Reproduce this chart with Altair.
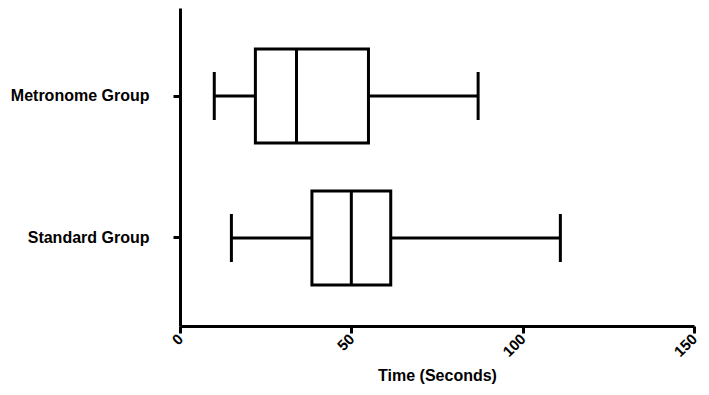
import altair as alt
import pandas as pd

groups = ["Metronome Group", "Standard Group"]
mins = [10, 15]
q1s = [22, 38.5]
medians = [34, 50]
q3s = [55, 61.5]
maxs = [87, 111]
x_ticks = [0, 50, 100, 150]

df = pd.DataFrame({"group": groups, "lo": mins, "q1": q1s, "med": medians,
                   "q3": q3s, "hi": maxs})

FONT = "Liberation Sans"
xscale = alt.Scale(domain=[0, 150], nice=False, zero=False)
xaxis = alt.Axis(values=x_ticks, title="Time (Seconds)", grid=False,
                 domainColor="black", domainWidth=3, tickColor="black",
                 tickWidth=3, tickSize=7, labelAngle=-45, labelAlign="right",
                 labelBaseline="middle", labelPadding=3, labelFont=FONT,
                 labelFontSize=15, labelFontWeight="bold", labelColor="black",
                 titleFont=FONT, titleFontSize=16, titleFontWeight="bold",
                 titleColor="black", titlePadding=8, labelFlush=False,
                 labelOverlap=False)
yscale = alt.Scale(domain=groups, paddingInner=0, paddingOuter=0.12)
yaxis = alt.Axis(title=None, grid=False, domainColor="black", domainWidth=3,
                 tickColor="black", tickWidth=3, tickSize=7, labelPadding=24,
                 labelFont=FONT, labelFontSize=16, labelFontWeight="bold",
                 labelColor="black")

base = alt.Chart(df).encode(y=alt.Y("group:N", scale=yscale, axis=yaxis))

def X(field):
    return alt.X(f"{field}:Q", scale=xscale, axis=xaxis)

w_lo = base.mark_rule(color="black", strokeWidth=3).encode(x=X("lo"), x2="q1:Q")
w_hi = base.mark_rule(color="black", strokeWidth=3).encode(x=X("q3"), x2="hi:Q")
box = base.mark_bar(fill="white", stroke="black", strokeWidth=3, size=94,
                    opacity=1).encode(x=X("q1"), x2="q3:Q")
med = base.mark_tick(color="black", thickness=3, size=94, opacity=1).encode(x=X("med"))
cap_lo = base.mark_tick(color="black", thickness=3, size=48, opacity=1).encode(x=X("lo"))
cap_hi = base.mark_tick(color="black", thickness=3, size=48, opacity=1).encode(x=X("hi"))

chart = alt.layer(w_lo, w_hi, box, med, cap_lo, cap_hi).properties(
    width=514, height=318,
    autosize=alt.AutoSizeParams(type="none"),
    padding={"left": 172, "top": 0, "right": 7, "bottom": 61},
    background="white",
).configure_view(stroke=None)

chart.save("out.html", embed_options={"renderer": "svg", "actions": False})
